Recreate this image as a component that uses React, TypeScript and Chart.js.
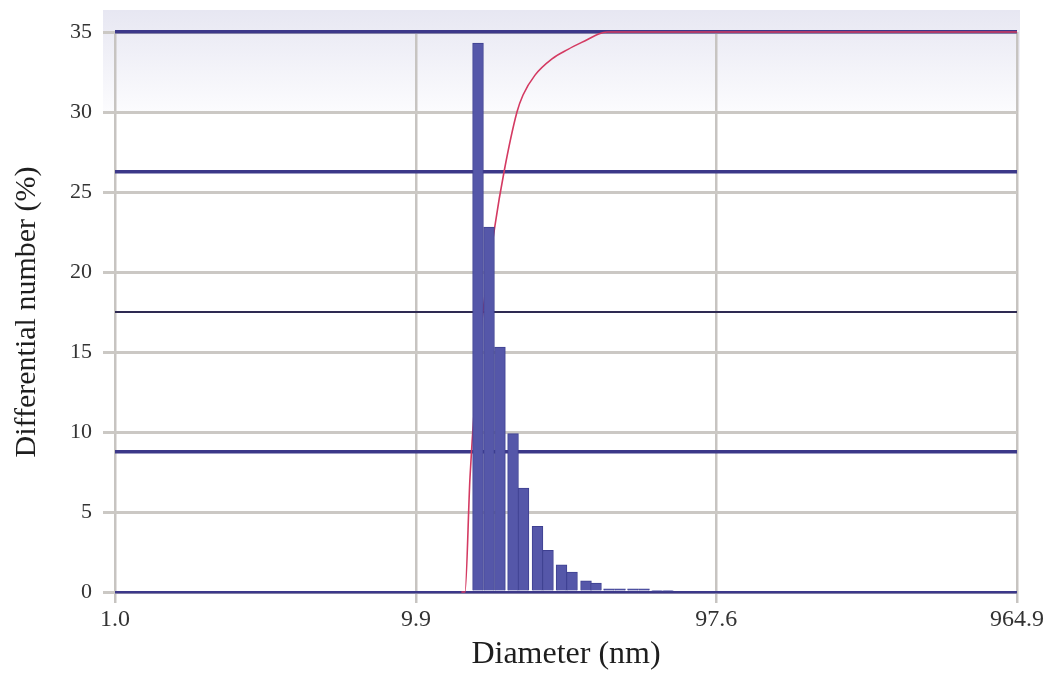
import { useEffect, useRef } from 'react';
import { Chart, registerables } from 'chart.js';

Chart.register(...registerables);

// Histogram bins (diameter in nm, bin centre) and differential number (%)
const binDiameters = [15.89, 17.28, 18.78, 20.75, 22.47, 25.0, 27.08, 30.02, 32.52, 36.18, 39.04, 43.11, 46.88, 51.74, 56.28, 62.15, 67.56];
const differentialNumber = [34.3, 22.8, 15.3, 9.9, 6.5, 4.1, 2.6, 1.7, 1.25, 0.7, 0.55, 0.2, 0.2, 0.2, 0.2, 0.05, 0.05];

// Cumulative curve (diameter in nm, cumulative %)
const cumulativeDiameters = [14.0, 14.39, 14.95, 16.13, 18.09, 19.37, 21.38, 22.39, 24.53, 27.92, 31.54, 36.74, 39.64, 42.5, 964.9];
const cumulativePercent = [0, 0, 20.5, 45, 65.5, 75, 85.7, 88.75, 92.3, 95.2, 96.9, 98.7, 99.6, 100, 100];

// Axis ticks
const xTickValues = [1.0, 9.9, 97.6, 964.9];
const xTickLabels = ['1.0', '9.9', '97.6', '964.9'];
const yMin = 0;
const yMax = 35;
const yStep = 5;
const cumulativeStep = 25;

const SERIF = '"Liberation Serif", "DejaVu Serif", serif';

const bandPlugin = {
  id: 'topBand',
  beforeDraw(chart: any) {
    const { ctx, chartArea, scales } = chart;
    const yTop = chartArea.top - 22;
    const yBot = scales.y.getPixelForValue(30);
    const g = ctx.createLinearGradient(0, yTop, 0, yBot);
    g.addColorStop(0, '#e7e7f2');
    g.addColorStop(1, '#fcfcfe');
    ctx.save();
    ctx.fillStyle = g;
    ctx.fillRect(chartArea.left - 12, yTop, chartArea.right - chartArea.left + 15, yBot - yTop);
    ctx.restore();
  },
};

export default function App() {
  const canvasRef = useRef<HTMLCanvasElement | null>(null);

  useEffect(() => {
    if (!canvasRef.current) return;
    const chart = new Chart(canvasRef.current, {
      type: 'bar',
      data: {
        datasets: [
          {
            type: 'bar',
            label: 'Differential number',
            data: binDiameters.map((d, i) => ({ x: d, y: differentialNumber[i] })),
            backgroundColor: '#5557a9',
            borderColor: '#3e4091',
            borderWidth: 1,
            barThickness: 10.8,
            grouped: false,
            xAxisID: 'x',
            yAxisID: 'y',
            order: 1,
          } as any,
          {
            type: 'line',
            label: 'Cumulative',
            data: cumulativeDiameters.map((d, i) => ({ x: d, y: cumulativePercent[i] })),
            borderColor: '#d43a62',
            borderWidth: 1.6,
            pointRadius: 0,
            cubicInterpolationMode: 'monotone',
            fill: false,
            clip: false,
            xAxisID: 'x',
            yAxisID: 'y1',
            order: 2,
          } as any,
        ],
      },
      options: {
        animation: false,
        responsive: true,
        maintainAspectRatio: false,
        layout: { padding: { top: 32, right: 31, left: 0, bottom: 0 } },
        plugins: {
          legend: { display: false },
          tooltip: { enabled: false },
        },
        scales: {
          x: {
            type: 'logarithmic',
            position: 'bottom',
            min: xTickValues[0],
            max: xTickValues[xTickValues.length - 1],
            offset: false,
            afterBuildTicks: (scale: any) => {
              scale.ticks = xTickValues.map((v) => ({ value: v }));
            },
            afterFit: (scale: any) => {
              scale.height = 82;
            },
            ticks: {
              autoSkip: false,
              maxRotation: 0,
              padding: 2,
              color: '#333',
              font: { family: SERIF, size: 24 },
              callback: (_v: any, i: number) => xTickLabels[i],
            },
            grid: {
              offset: false,
              color: '#c7c4c1',
              lineWidth: 2.5,
              tickLength: 11,
              drawTicks: true,
            },
            border: { display: false },
            title: {
              display: true,
              text: 'Diameter (nm)',
              color: '#1e1e1e',
              font: { family: SERIF, size: 32 },
              padding: { top: 0, bottom: 0 },
            },
          },
          y: {
            type: 'linear',
            position: 'left',
            min: yMin,
            max: yMax,
            afterFit: (scale: any) => {
              scale.width = 115;
            },
            ticks: {
              stepSize: yStep,
              padding: 11,
              color: '#333',
              font: { family: SERIF, size: 22 },
            },
            grid: {
              color: '#cbc8c4',
              lineWidth: 3,
              tickLength: 12,
            },
            border: { display: false },
            title: {
              display: true,
              text: 'Differential number (%)',
              color: '#1e1e1e',
              font: { family: SERIF, size: 30 },
              padding: { top: 9, bottom: 0 },
            },
          },
          y1: {
            type: 'linear',
            position: 'right',
            min: 0,
            max: 100,
            afterFit: (scale: any) => {
              scale.width = 0;
            },
            ticks: { display: false, stepSize: cumulativeStep },
            grid: {
              drawTicks: false,
              color: (c: any) => (c.tick && c.tick.value === 50 ? '#2e2a52' : '#3c3889'),
              lineWidth: (c: any) =>
                c.tick && c.tick.value === 50 ? 2 : c.tick && c.tick.value === 0 ? 2.5 : 3.5,
            },
            border: { display: false },
          },
        },
      } as any,
      plugins: [bandPlugin],
    });
    return () => chart.destroy();
  }, []);

  return (
    <div style={{ position: 'fixed', left: 0, top: 0, width: 1048, height: 674, background: '#fff' }}>
      <canvas ref={canvasRef} />
    </div>
  );
}
